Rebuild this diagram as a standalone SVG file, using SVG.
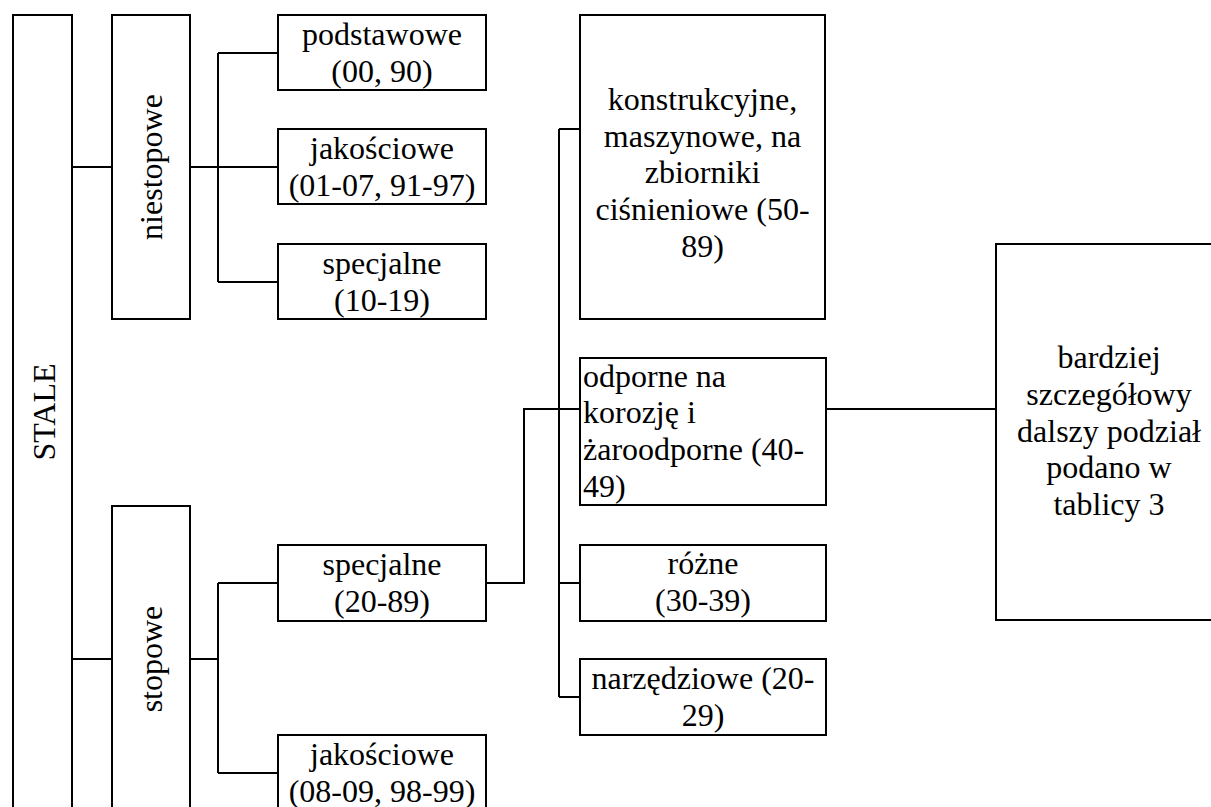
<svg xmlns="http://www.w3.org/2000/svg" width="1211" height="807" viewBox="0 0 1211 807" font-family="'Liberation Serif', 'Times New Roman', Tinos, 'DejaVu Serif', serif">
<style>
.box{fill:#fff;stroke:#000;stroke-width:2}
.ln{fill:none;stroke:#000;stroke-width:2}
text{font-family:'Liberation Serif','Times New Roman',Tinos,'DejaVu Serif',serif;font-size:32px;fill:#000}
.c{text-anchor:middle}
</style>
<rect width="1211" height="807" fill="#fff"/>
<g id="connectors">
<path class="ln" d="M72,167H112M190,167H218M218,53V282M218,53H278M218,167H278M218,282H278"/>
<path class="ln" d="M72,659H112M190,659H218M218,583V773M218,583H278M218,773H278"/>
<path class="ln" d="M486,583H524V409H580"/>
<path class="ln" d="M559,129V697M559,129H580M559,583H580M559,697H580"/>
<path class="ln" d="M826,409H996"/>
</g>
<g id="stale"><rect class="box" x="13" y="15" width="59" height="800"/><text class="c" transform="translate(55,412) rotate(-90)">STALE</text></g>
<g id="niestopowe"><rect class="box" x="112" y="15" width="78" height="304"/><text class="c" transform="translate(162,167) rotate(-90)">niestopowe</text></g>
<g id="stopowe"><rect class="box" x="112" y="506" width="78" height="310"/><text class="c" transform="translate(162,659) rotate(-90)">stopowe</text></g>
<g id="podstawowe"><rect class="box" x="278" y="15" width="208" height="75"/><text class="c" x="382" y="45">podstawowe</text><text class="c" x="382" y="82">(00, 90)</text></g>
<g id="jakosciowe1"><rect class="box" x="278" y="129" width="208" height="75"/><text class="c" x="382" y="159">jakościowe</text><text class="c" x="382" y="196">(01-07, 91-97)</text></g>
<g id="specjalne1"><rect class="box" x="278" y="244" width="208" height="75"/><text class="c" x="382" y="274">specjalne</text><text class="c" x="382" y="311">(10-19)</text></g>
<g id="specjalne2"><rect class="box" x="278" y="545" width="208" height="76"/><text class="c" x="382" y="575">specjalne</text><text class="c" x="382" y="612">(20-89)</text></g>
<g id="jakosciowe2"><rect class="box" x="278" y="735" width="208" height="80"/><text class="c" x="382" y="765">jakościowe</text><text class="c" x="382" y="802">(08-09, 98-99)</text></g>
<g id="konstrukcyjne"><rect class="box" x="580" y="15" width="245" height="304"/>
<text class="c" x="702.5" y="110">konstrukcyjne,</text><text class="c" x="702.5" y="147">maszynowe, na</text><text class="c" x="702.5" y="183">zbiorniki</text><text class="c" x="702.5" y="220">ciśnieniowe (50-</text><text class="c" x="702.5" y="257">89)</text></g>
<g id="odporne"><rect class="box" x="580" y="358" width="246" height="147"/>
<text x="583" y="387">odporne na</text><text x="583" y="423">korozję i</text><text x="583" y="460">żaroodporne (40-</text><text x="583" y="497">49)</text></g>
<g id="rozne"><rect class="box" x="580" y="545" width="246" height="76"/><text class="c" x="703" y="574">różne</text><text class="c" x="703" y="611">(30-39)</text></g>
<g id="narzedziowe"><rect class="box" x="580" y="659" width="246" height="76"/><text class="c" x="703" y="689">narzędziowe (20-</text><text class="c" x="703" y="726">29)</text></g>
<g id="bardziej"><rect class="box" x="996" y="244" width="226" height="376"/>
<text class="c" x="1109" y="368">bardziej</text><text class="c" x="1109" y="405">szczegółowy</text><text class="c" x="1109" y="442">dalszy podział</text><text class="c" x="1109" y="478">podano w</text><text class="c" x="1109" y="515">tablicy 3</text></g>
</svg>
